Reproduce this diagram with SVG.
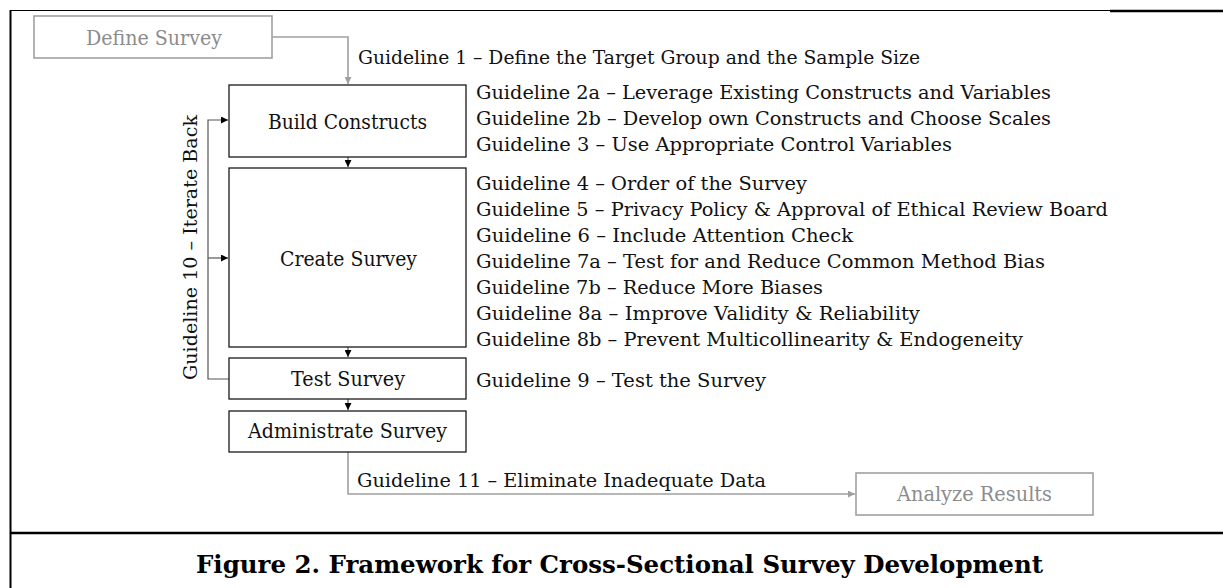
<svg xmlns="http://www.w3.org/2000/svg" width="1223" height="588" viewBox="0 0 1223 588">
  <style>
    .box { fill: #ffffff; stroke: #1a1a1a; stroke-width: 1.3; }
    .gbox { fill: #ffffff; stroke: #a0a0a0; stroke-width: 1.6; }
    .lbl { font-family: "DejaVu Serif", "Liberation Serif", serif; font-size: 20px; fill: #111111; }
    .glbl { font-family: "DejaVu Serif", "Liberation Serif", serif; font-size: 20px; fill: #8c8c8c; }
    .gl { font-family: "DejaVu Serif", "Liberation Serif", serif; font-size: 18px; fill: #111111; }
    .cap { font-family: "DejaVu Serif", "Liberation Serif", serif; font-size: 24px; font-weight: bold; fill: #000000; }
    .edge { fill: none; stroke: #555555; stroke-width: 1.2; }
    .gedge { fill: none; stroke: #a0a0a0; stroke-width: 1.6; }
  </style>
  <defs>
    <marker id="ah" viewBox="0 0 10 10" refX="10" refY="5" markerWidth="7" markerHeight="7" markerUnits="userSpaceOnUse" orient="auto">
      <path d="M0,0 L10,5 L0,10 z" fill="#000000"/>
    </marker>
    <marker id="gah" viewBox="0 0 10 10" refX="10" refY="5" markerWidth="7" markerHeight="7" markerUnits="userSpaceOnUse" orient="auto">
      <path d="M0,0 L10,5 L0,10 z" fill="#a0a0a0"/>
    </marker>
  </defs>

  <rect width="1223" height="588" fill="#ffffff"/>

  <!-- figure frame -->
  <g id="frame">
    <line x1="10" y1="10.5" x2="1111" y2="10.5" stroke="#000" stroke-width="1.2"/>
    <line x1="1110" y1="11" x2="1223" y2="11" stroke="#000" stroke-width="2.4"/>
    <line x1="10.5" y1="10" x2="10.5" y2="588" stroke="#000" stroke-width="2"/>
    <line x1="10" y1="533" x2="1223" y2="533" stroke="#000" stroke-width="2.6"/>
  </g>

  <!-- connectors -->
  <g id="connectors">
    <polyline class="gedge" points="272,37 348,37 348,84" marker-end="url(#gah)"/>
    <line class="edge" x1="348" y1="157" x2="348" y2="167" marker-end="url(#ah)"/>
    <line class="edge" x1="348" y1="347" x2="348" y2="357" marker-end="url(#ah)"/>
    <line class="edge" x1="348" y1="399" x2="348" y2="410" marker-end="url(#ah)"/>
    <polyline class="edge" points="229,379 208,379 208,120 228,120" marker-end="url(#ah)"/>
    <line class="edge" x1="208" y1="258" x2="228" y2="258" marker-end="url(#ah)"/>
    <polyline class="gedge" points="348,452 348,494 855,494" marker-end="url(#gah)"/>
  </g>

  <!-- nodes -->
  <g id="define-survey">
    <rect class="gbox" x="34" y="16" width="238" height="42"/>
    <text class="glbl" x="154" y="45" text-anchor="middle" textLength="136" lengthAdjust="spacingAndGlyphs">Define Survey</text>
  </g>
  <g id="build-constructs">
    <rect class="box" x="229" y="85" width="237" height="72"/>
    <text class="lbl" x="347.5" y="129" text-anchor="middle" textLength="159" lengthAdjust="spacingAndGlyphs">Build Constructs</text>
  </g>
  <g id="create-survey">
    <rect class="box" x="229" y="168" width="237" height="179"/>
    <text class="lbl" x="348.5" y="266" text-anchor="middle" textLength="137" lengthAdjust="spacingAndGlyphs">Create Survey</text>
  </g>
  <g id="test-survey">
    <rect class="box" x="229" y="358" width="237" height="41"/>
    <text class="lbl" x="348" y="386" text-anchor="middle" textLength="114" lengthAdjust="spacingAndGlyphs">Test Survey</text>
  </g>
  <g id="administrate-survey">
    <rect class="box" x="229" y="411" width="237" height="41"/>
    <text class="lbl" x="347.5" y="438" text-anchor="middle" textLength="199" lengthAdjust="spacingAndGlyphs">Administrate Survey</text>
  </g>
  <g id="analyze-results">
    <rect class="gbox" x="856" y="473" width="237" height="42"/>
    <text class="glbl" x="974.5" y="501" text-anchor="middle" textLength="155" lengthAdjust="spacingAndGlyphs">Analyze Results</text>
  </g>

  <!-- guideline labels -->
  <g id="guidelines">
    <text class="gl" x="358" y="64" textLength="562" lengthAdjust="spacingAndGlyphs">Guideline 1 – Define the Target Group and the Sample Size</text>
    <text class="gl" x="476" y="99" textLength="575" lengthAdjust="spacingAndGlyphs">Guideline 2a – Leverage Existing Constructs and Variables</text>
    <text class="gl" x="476" y="125" textLength="575" lengthAdjust="spacingAndGlyphs">Guideline 2b – Develop own Constructs and Choose Scales</text>
    <text class="gl" x="476" y="151" textLength="476" lengthAdjust="spacingAndGlyphs">Guideline 3 – Use Appropriate Control Variables</text>
    <text class="gl" x="476" y="190" textLength="331" lengthAdjust="spacingAndGlyphs">Guideline 4 – Order of the Survey</text>
    <text class="gl" x="476" y="216" textLength="632" lengthAdjust="spacingAndGlyphs">Guideline 5 – Privacy Policy &amp; Approval of Ethical Review Board</text>
    <text class="gl" x="476" y="242" textLength="377" lengthAdjust="spacingAndGlyphs">Guideline 6 – Include Attention Check</text>
    <text class="gl" x="476" y="268" textLength="569" lengthAdjust="spacingAndGlyphs">Guideline 7a – Test for and Reduce Common Method Bias</text>
    <text class="gl" x="476" y="294" textLength="347" lengthAdjust="spacingAndGlyphs">Guideline 7b – Reduce More Biases</text>
    <text class="gl" x="476" y="320" textLength="444" lengthAdjust="spacingAndGlyphs">Guideline 8a – Improve Validity &amp; Reliability</text>
    <text class="gl" x="476" y="346" textLength="547" lengthAdjust="spacingAndGlyphs">Guideline 8b – Prevent Multicollinearity &amp; Endogeneity</text>
    <text class="gl" x="476" y="387" textLength="290" lengthAdjust="spacingAndGlyphs">Guideline 9 – Test the Survey</text>
    <text class="gl" x="357" y="487" textLength="409" lengthAdjust="spacingAndGlyphs">Guideline 11 – Eliminate Inadequate Data</text>
    <text class="gl" transform="translate(197,380) rotate(-90)" x="0" y="0" textLength="265" lengthAdjust="spacingAndGlyphs">Guideline 10 – Iterate Back</text>
  </g>

  <!-- caption -->
  <text class="cap" x="196" y="573" textLength="847" lengthAdjust="spacingAndGlyphs">Figure 2. Framework for Cross-Sectional Survey Development</text>
</svg>
